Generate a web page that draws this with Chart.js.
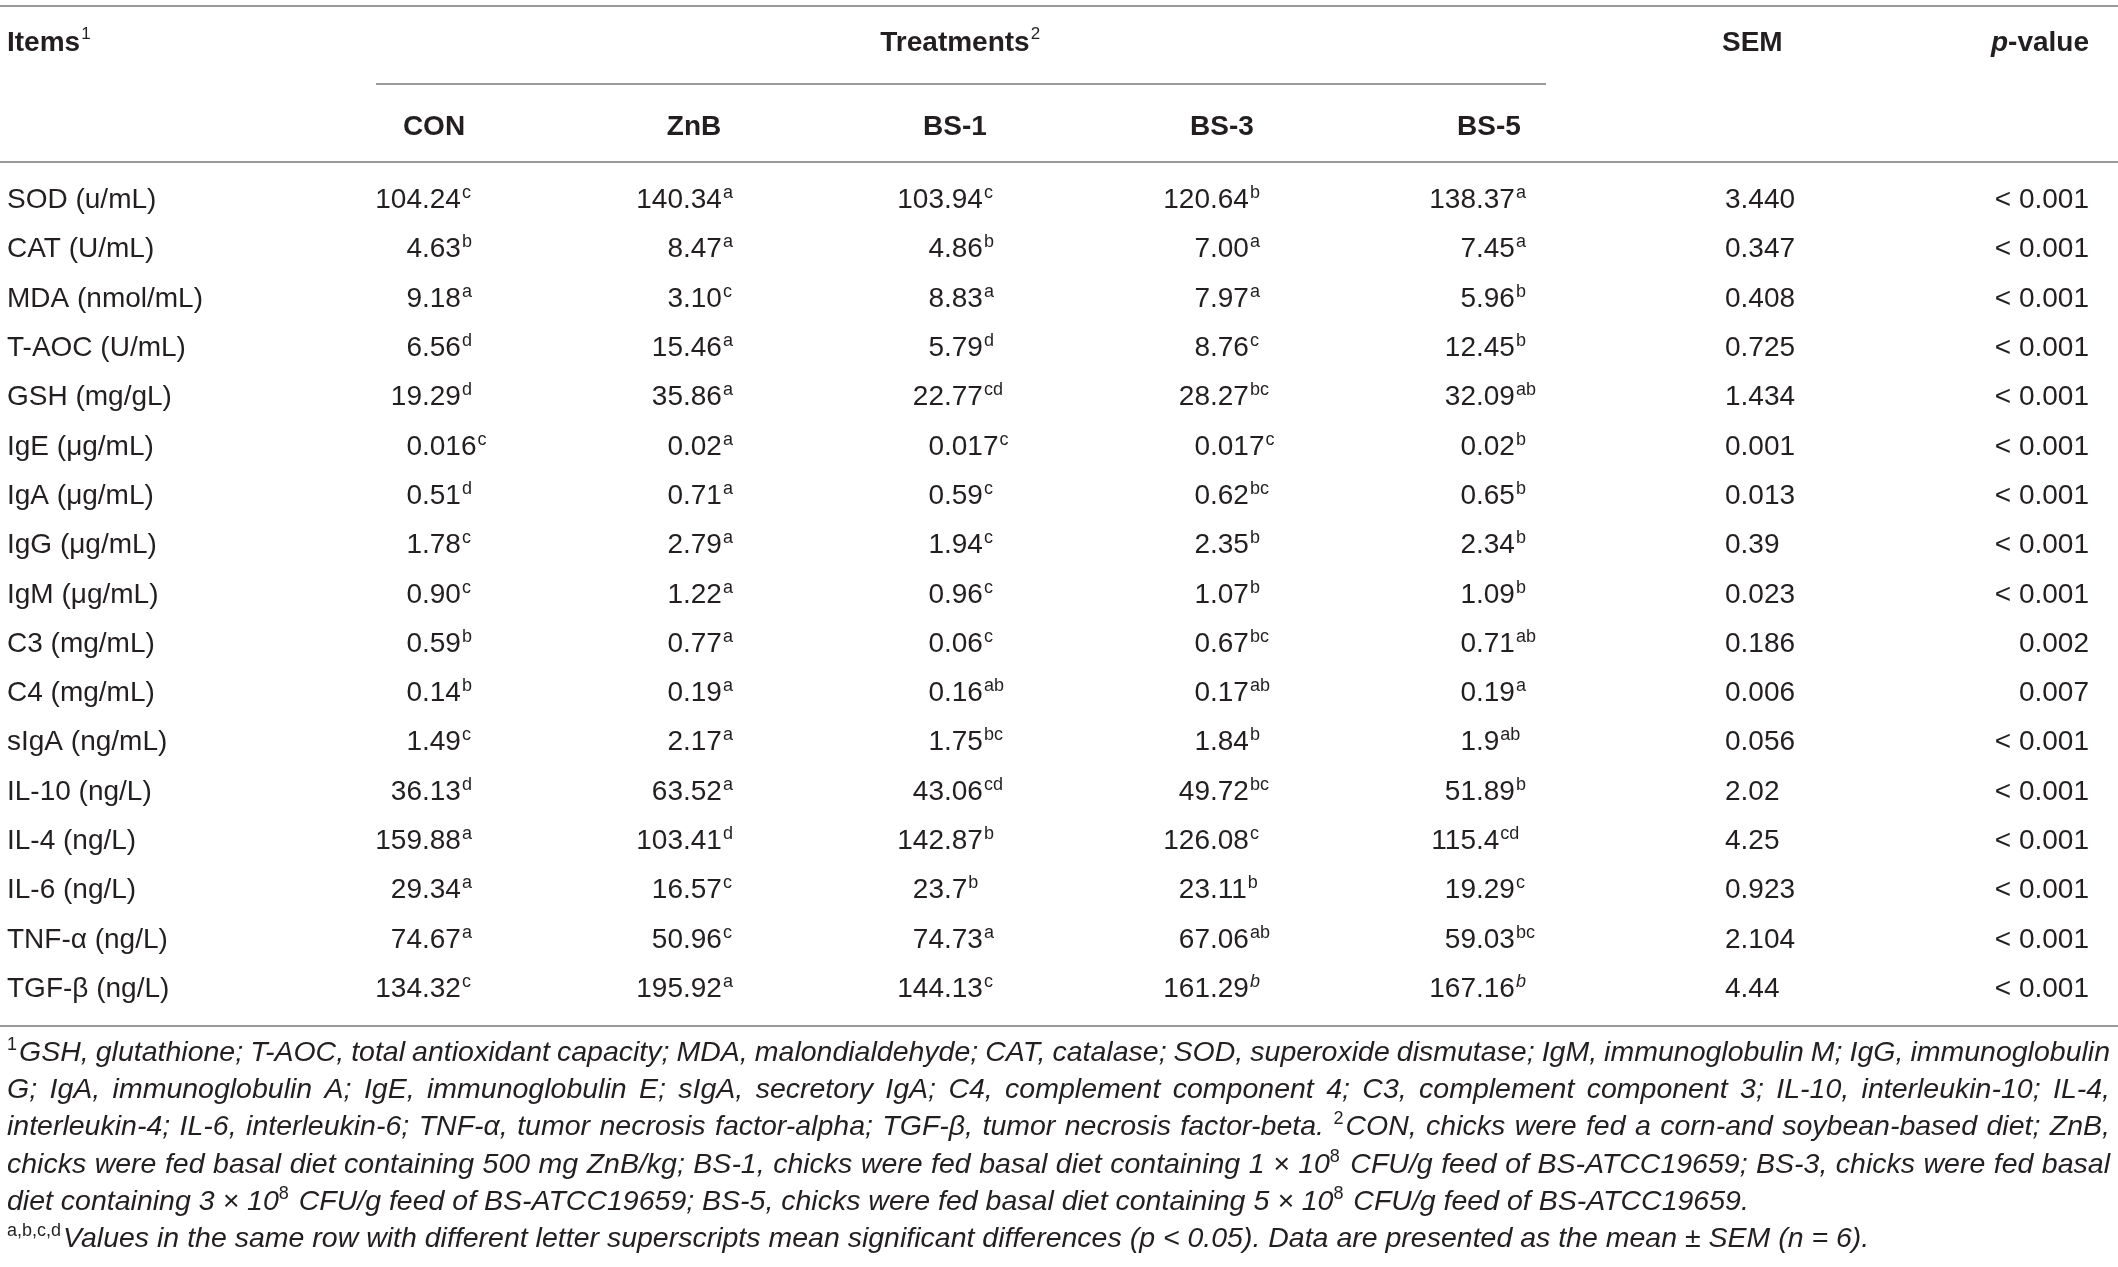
<!DOCTYPE html>
<html>
<head>
<meta charset="utf-8">
<script src="https://cdn.jsdelivr.net/npm/chart.js@4/dist/chart.umd.min.js"></script>
<style>
  html, body { margin: 0; padding: 0; background: #ffffff; }
  #chart-div { width: 2118px; height: 1267px; position: relative; }
</style>
</head>
<body>
<div id="chart-div"><canvas id="myChart"></canvas></div>
<script>
// Rows of the table
const items = ["SOD (u/mL)", "CAT (U/mL)", "MDA (nmol/mL)", "T-AOC (U/mL)", "GSH (mg/gL)", "IgE (\u03bcg/mL)",
    "IgA (\u03bcg/mL)", "IgG (\u03bcg/mL)", "IgM (\u03bcg/mL)", "C3 (mg/mL)", "C4 (mg/mL)", "sIgA (ng/mL)",
    "IL-10 (ng/L)", "IL-4 (ng/L)", "IL-6 (ng/L)", "TNF-\u03b1 (ng/L)", "TGF-\u03b2 (ng/L)"]

// Treatment columns (value + letter superscript, "/" marks an italic letter)
const treatments = ["CON", "ZnB", "BS-1", "BS-3", "BS-5"]
const conValues = ["104.24", "4.63", "9.18", "6.56", "19.29", "0.016", "0.51", "1.78", "0.90", "0.59", "0.14", "1.49", "36.13", "159.88", "29.34", "74.67", "134.32"]
const conLetters = ["c", "b", "a", "d", "d", "c", "d", "c", "c", "b", "b", "c", "d", "a", "a", "a", "c"]
const znbValues = ["140.34", "8.47", "3.10", "15.46", "35.86", "0.02", "0.71", "2.79", "1.22", "0.77", "0.19", "2.17", "63.52", "103.41", "16.57", "50.96", "195.92"]
const znbLetters = ["a", "a", "c", "a", "a", "a", "a", "a", "a", "a", "a", "a", "a", "d", "c", "c", "a"]
const bs1Values = ["103.94", "4.86", "8.83", "5.79", "22.77", "0.017", "0.59", "1.94", "0.96", "0.06", "0.16", "1.75", "43.06", "142.87", "23.7", "74.73", "144.13"]
const bs1Letters = ["c", "b", "a", "d", "cd", "c", "c", "c", "c", "c", "ab", "bc", "cd", "b", "b", "a", "c"]
const bs3Values = ["120.64", "7.00", "7.97", "8.76", "28.27", "0.017", "0.62", "2.35", "1.07", "0.67", "0.17", "1.84", "49.72", "126.08", "23.11", "67.06", "161.29"]
const bs3Letters = ["b", "a", "a", "c", "bc", "c", "bc", "b", "b", "bc", "ab", "b", "bc", "c", "b", "ab", "/b"]
const bs5Values = ["138.37", "7.45", "5.96", "12.45", "32.09", "0.02", "0.65", "2.34", "1.09", "0.71", "0.19", "1.9", "51.89", "115.4", "19.29", "59.03", "167.16"]
const bs5Letters = ["a", "a", "b", "b", "ab", "b", "b", "b", "b", "ab", "a", "ab", "b", "cd", "c", "bc", "/b"]
const semValues = ["3.440", "0.347", "0.408", "0.725", "1.434", "0.001", "0.013", "0.39", "0.023", "0.186", "0.006", "0.056", "2.02", "4.25", "0.923", "2.104", "4.44"]
const pValues = ["< 0.001", "< 0.001", "< 0.001", "< 0.001", "< 0.001", "< 0.001", "< 0.001", "< 0.001", "< 0.001", "0.002", "0.007", "< 0.001", "< 0.001", "< 0.001", "< 0.001", "< 0.001", "< 0.001"]

// Footnotes, {..} is a superscript
const footnotes = [
    "{1}GSH, glutathione; T-AOC, total antioxidant capacity; MDA, malondialdehyde; CAT, catalase; SOD, superoxide dismutase; IgM, immunoglobulin M; IgG, immunoglobulin",
    "G; IgA, immunoglobulin A; IgE, immunoglobulin E; sIgA, secretory IgA; C4, complement component 4; C3, complement component 3; IL-10, interleukin-10; IL-4,",
    "interleukin-4; IL-6, interleukin-6; TNF-\u03b1, tumor necrosis factor-alpha; TGF-\u03b2, tumor necrosis factor-beta. {2}CON, chicks were fed a corn-and soybean-based diet; ZnB,",
    "chicks were fed basal diet containing 500 mg ZnB/kg; BS-1, chicks were fed basal diet containing 1 \u00d7 10{8} CFU/g feed of BS-ATCC19659; BS-3, chicks were fed basal",
    "diet containing 3 \u00d7 10{8} CFU/g feed of BS-ATCC19659; BS-5, chicks were fed basal diet containing 5 \u00d7 10{8} CFU/g feed of BS-ATCC19659.",
    "{a,b,c,d}Values in the same row with different letter superscripts mean significant differences (p < 0.05). Data are presented as the mean \u00b1 SEM (n = 6)."
]
const justified = [true, true, true, true, false, false]

// Layout (page pixels)
const colX = { items: 7, con: 422, znb: 683, bs1: 944, bs3: 1210, bs5: 1476, sem: 1725, p: 2089 }
const headX = [434, 694, 955, 1222, 1489]
const family = "'Liberation Sans', Arial, Helvetica, sans-serif"
const ink = "#231f20"
const ruleColor = "#9a9a9a"

function cellSet(x, values, letters, align){
    return {
        data: items.map(item => ({ x: x, y: item })),
        cellText: values,
        cellSup: letters,
        cellAlign: align,
        pointRadius: 0,
        pointHoverRadius: 0
    }
}

// Draw a rule across the page
function rule(ctx, x1, x2, y){
    ctx.strokeStyle = ruleColor
    ctx.lineWidth = 2
    ctx.beginPath()
    ctx.moveTo(x1, y)
    ctx.lineTo(x2, y)
    ctx.stroke()
}

// Split "text{sup}text" into runs
function runs(word){
    let out = []
    let re = /\{([^}]*)\}|([^{]+)/g
    let m
    while ((m = re.exec(word)) !== null){
        if (m[1] !== undefined) out.push({ t: m[1], sup: true })
        else out.push({ t: m[2], sup: false })
    }
    return out
}

const footFont = "italic 28.5px " + family
const footSupFont = "18px " + family

function wordWidth(ctx, word){
    let w = 0
    runs(word).forEach(r => {
        ctx.font = r.sup ? footSupFont : footFont
        w += ctx.measureText(r.t).width + (r.sup ? 2 : 0)
    })
    return w
}

function drawWord(ctx, word, x, y){
    runs(word).forEach(r => {
        ctx.font = r.sup ? footSupFont : footFont
        ctx.fillText(r.t, x, r.sup ? y - 11 : y)
        x += ctx.measureText(r.t).width + (r.sup ? 2 : 0)
    })
}

const tablePlugin = {
    id: "tableText",
    afterDatasetsDraw(chart){
        const ctx = chart.ctx
        const xs = chart.scales.x
        const left = xs.getPixelForValue(0)
        const right = xs.getPixelForValue(2118)
        ctx.save()
        ctx.fillStyle = ink
        ctx.textBaseline = "alphabetic"

        // Rules
        rule(ctx, left, right, 6)
        rule(ctx, xs.getPixelForValue(376), xs.getPixelForValue(1546), 84)
        rule(ctx, left, right, 162)
        rule(ctx, left, right, 1026)

        // Header row 1
        ctx.font = "bold 28px " + family
        ctx.textAlign = "left"
        ctx.fillText("Items", xs.getPixelForValue(colX.items), 51)
        let w = ctx.measureText("Items").width
        ctx.font = "17px " + family
        ctx.fillText("1", xs.getPixelForValue(colX.items) + w + 1, 39)

        ctx.font = "bold 28px " + family
        ctx.textAlign = "center"
        ctx.fillText("Treatments", xs.getPixelForValue(955), 51)
        w = ctx.measureText("Treatments").width
        ctx.font = "17px " + family
        ctx.textAlign = "left"
        ctx.fillText("2", xs.getPixelForValue(955) + w / 2 + 1, 39)

        ctx.font = "bold 28px " + family
        ctx.fillText("SEM", xs.getPixelForValue(1722), 51)

        ctx.textAlign = "right"
        ctx.fillText("-value", xs.getPixelForValue(colX.p), 51)
        w = ctx.measureText("-value").width
        ctx.font = "italic bold 28px " + family
        ctx.fillText("p", xs.getPixelForValue(colX.p) - w, 51)

        // Header row 2
        ctx.font = "bold 28px " + family
        ctx.textAlign = "center"
        treatments.forEach((t, i) => ctx.fillText(t, xs.getPixelForValue(headX[i]), 135))

        // Cells, placed by the scales
        ctx.textAlign = "left"
        chart.data.datasets.forEach((ds, d) => {
            const meta = chart.getDatasetMeta(d)
            meta.data.forEach((pt, i) => {
                const text = ds.cellText[i]
                const base = pt.y + 9.5
                ctx.font = "28px " + family
                let x = pt.x
                if (ds.cellAlign === "decimal") x = pt.x - ctx.measureText(text.split(".")[0]).width
                else if (ds.cellAlign === "right") x = pt.x - ctx.measureText(text).width
                ctx.fillText(text, x, base)
                if (ds.cellSup){
                    let sup = ds.cellSup[i]
                    let italic = sup.startsWith("/")
                    if (italic) sup = sup.slice(1)
                    const sx = x + ctx.measureText(text).width + 1
                    ctx.font = (italic ? "italic " : "") + "18px " + family
                    ctx.fillText(sup, sx, base - 10)
                }
            })
        })

        // Footnotes
        const fLeft = xs.getPixelForValue(7)
        const fRight = xs.getPixelForValue(2110)
        footnotes.forEach((line, k) => {
            const y = 1061 + k * 37.2
            const words = line.split(" ")
            const widths = words.map(word => wordWidth(ctx, word))
            ctx.font = footFont
            const space = ctx.measureText(" ").width
            let gap = space
            if (justified[k]){
                const total = widths.reduce((a, b) => a + b, 0)
                gap = (fRight - fLeft - total) / (words.length - 1)
            }
            let x = fLeft
            words.forEach((word, i) => {
                drawWord(ctx, word, x, y)
                x += widths[i] + gap
            })
        })
        ctx.restore()
    }
}

const data = {
    datasets: [
        cellSet(colX.items, items, null, "left"),
        cellSet(colX.con, conValues, conLetters, "decimal"),
        cellSet(colX.znb, znbValues, znbLetters, "decimal"),
        cellSet(colX.bs1, bs1Values, bs1Letters, "decimal"),
        cellSet(colX.bs3, bs3Values, bs3Letters, "decimal"),
        cellSet(colX.bs5, bs5Values, bs5Letters, "decimal"),
        cellSet(colX.sem, semValues, null, "left"),
        cellSet(colX.p, pValues, null, "right")
    ]
}

const config = {
    type: "scatter",
    data: data,
    options: {
        responsive: true,
        maintainAspectRatio: false,
        animation: false,
        layout: { padding: { top: 174, bottom: 255, left: 0, right: 0 } },
        scales: {
            x: { type: "linear", min: 0, max: 2118, display: false },
            y: { type: "category", labels: items, offset: true, display: false }
        },
        plugins: {
            legend: { display: false },
            tooltip: { enabled: false }
        }
    },
    plugins: [tablePlugin]
}

new Chart(document.getElementById("myChart"), config)
</script>
</body>
</html>
